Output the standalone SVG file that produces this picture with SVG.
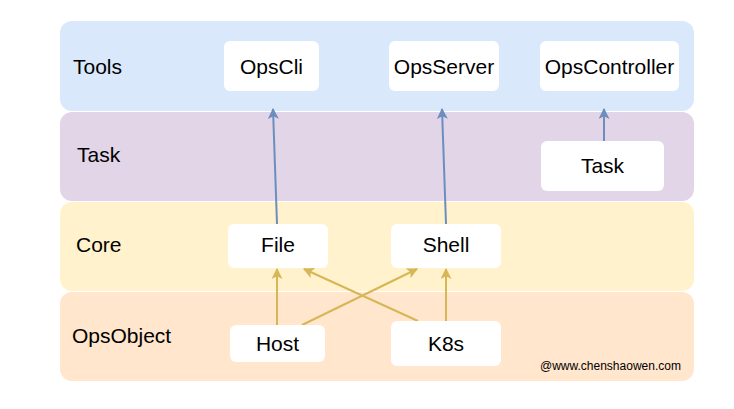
<svg xmlns="http://www.w3.org/2000/svg" width="734" height="409" viewBox="0 0 734 409">
<style>
  .band { stroke: none; }
  .node rect { fill: #ffffff; stroke: none; }
  text { font-family: "Liberation Sans", Arial, Helvetica, sans-serif; fill: #000000; }
  .lbl { font-size: 21px; }
  .ntxt { font-size: 21px; text-anchor: middle; }
  .wm { font-size: 12px; }
  .blue { stroke: #6c8ebf; stroke-width: 2; fill: none; }
  .yellow { stroke: #d6b656; stroke-width: 2; fill: none; }
</style>
<defs>
  <marker id="ab" viewBox="0 0 10 10" refX="9" refY="5" markerWidth="5.5" markerHeight="5.5" markerUnits="strokeWidth" orient="auto">
    <path d="M0,0 L10,5 L0,10 L2.5,5 Z" fill="#6c8ebf"/>
  </marker>
  <marker id="ay" viewBox="0 0 10 10" refX="9" refY="5" markerWidth="5.5" markerHeight="5.5" markerUnits="strokeWidth" orient="auto">
    <path d="M0,0 L10,5 L0,10 L2.5,5 Z" fill="#d6b656"/>
  </marker>
</defs>
<rect width="734" height="409" fill="#ffffff"/>
<g id="layers">
  <g id="layer-tools"><rect class="band" x="60" y="21" width="634" height="90" rx="12" fill="#dae8fc"/><text class="lbl" x="73" y="74">Tools</text></g>
  <g id="layer-task"><rect class="band" x="60" y="112" width="634" height="89" rx="12" fill="#e1d5e7"/><text class="lbl" x="77" y="162">Task</text></g>
  <g id="layer-core"><rect class="band" x="60" y="202" width="634" height="89" rx="12" fill="#fff2cc"/><text class="lbl" x="76" y="252">Core</text></g>
  <g id="layer-opsobject"><rect class="band" x="60" y="292" width="634" height="89" rx="12" fill="#ffe6cc"/><text class="lbl" x="72" y="343">OpsObject</text>
    <text class="wm" x="540" y="370">@www.chenshaowen.com</text></g>
</g>
<g id="connectors">
  <line class="blue" x1="277" y1="224" x2="273" y2="109" marker-end="url(#ab)"/>
  <line class="blue" x1="446" y1="224" x2="442" y2="109" marker-end="url(#ab)"/>
  <line class="blue" x1="604" y1="141" x2="604" y2="109" marker-end="url(#ab)"/>
  <line class="yellow" x1="277" y1="325" x2="277" y2="269" marker-end="url(#ay)"/>
  <line class="yellow" x1="302" y1="325" x2="417" y2="269" marker-end="url(#ay)"/>
  <line class="yellow" x1="418" y1="321" x2="304" y2="269" marker-end="url(#ay)"/>
  <line class="yellow" x1="446" y1="321" x2="446" y2="269" marker-end="url(#ay)"/>
</g>
<g id="node-opscli" class="node"><rect x="224" y="41" width="95" height="50" rx="6"/><text class="ntxt" x="271.5" y="74">OpsCli</text></g>
<g id="node-opsserver" class="node"><rect x="389" y="41" width="110" height="50" rx="6"/><text class="ntxt" x="444" y="74">OpsServer</text></g>
<g id="node-opscontroller" class="node"><rect x="540" y="41" width="139" height="50" rx="6"/><text class="ntxt" x="609.5" y="74">OpsController</text></g>
<g id="node-task" class="node"><rect x="541" y="141" width="123" height="50" rx="6"/><text class="ntxt" x="602.5" y="173">Task</text></g>
<g id="node-file" class="node"><rect x="228" y="224" width="100" height="44" rx="6"/><text class="ntxt" x="278" y="252">File</text></g>
<g id="node-shell" class="node"><rect x="391" y="224" width="110" height="44" rx="6"/><text class="ntxt" x="446" y="252">Shell</text></g>
<g id="node-host" class="node"><rect x="230" y="325" width="95" height="37" rx="6"/><text class="ntxt" x="277.5" y="351">Host</text></g>
<g id="node-k8s" class="node"><rect x="391" y="321" width="110" height="45" rx="6"/><text class="ntxt" x="446" y="351">K8s</text></g>
</svg>
